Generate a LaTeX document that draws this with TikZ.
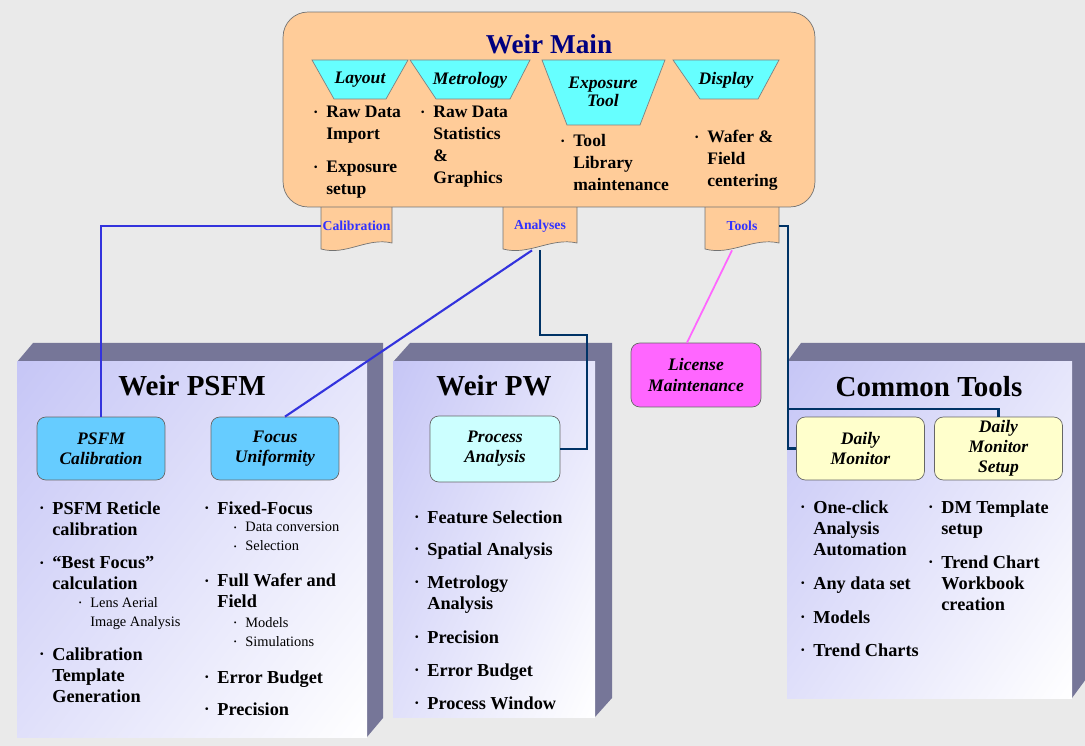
\documentclass[tikz,border=0pt]{standalone}
\usepackage{fontspec}
\setmainfont{Liberation Serif}
\usepackage{graphicx}
\usetikzlibrary{positioning,shadings}

\definecolor{bggray}{RGB}{234,234,234}
\definecolor{peach}{RGB}{255,204,153}
\definecolor{trapcyan}{RGB}{102,255,255}
\definecolor{titlenavy}{RGB}{0,0,128}
\definecolor{tabblue}{RGB}{51,51,255}
\definecolor{lineblue}{RGB}{51,51,221}
\definecolor{linenavy}{RGB}{0,51,102}
\definecolor{linepink}{RGB}{255,102,255}
\definecolor{slabside}{RGB}{118,118,152}
\definecolor{slablav}{RGB}{198,198,246}
\definecolor{skybox}{RGB}{102,204,255}
\definecolor{paleaqua}{RGB}{204,255,255}
\definecolor{magbox}{RGB}{255,102,255}
\definecolor{paleyel}{RGB}{255,255,204}

\newcommand{\bul}{\llap{\raisebox{.25ex}{\scalebox{.55}{\textbullet}}\hspace{5pt}}}

% front face (x0,y0)-(x1,y1), depth dx/dy
\newcommand{\slab}[6]{%
  \fill[slabside] (#1,#2) -- (#1+#5,#2-#6) -- (#3+#5,#2-#6) -- (#3+#5,#4-#6) -- (#3,#4) -- cycle;
  \shade[upper left=slablav, upper right=slablav!45!white, lower left=slablav!55!white, lower right=white]
    (#1,#2) rectangle (#3,#4);
}

\tikzset{
  blist/.style={anchor=north west, inner sep=0pt, align=left, font=\bfseries\fontsize{10}{12.4}\selectfont},
  itm/.style={anchor=north west, inner sep=0pt, align=left, font=\bfseries\fontsize{10.4}{12}\selectfont},
  subitm/.style={anchor=north west, inner sep=0pt, align=left, font=\fontsize{8.2}{10.8}\selectfont},
  traplbl/.style={inner sep=0pt, align=center, font=\bfseries\itshape\fontsize{10}{10.4}\selectfont},
  slabtitle/.style={inner sep=0pt, font=\bfseries\fontsize{16.5}{18}\selectfont},
  subbox/.style={draw=black!60, rounded corners=5pt, inner sep=0pt, align=center,
    font=\bfseries\itshape\fontsize{10}{11.5}\selectfont, minimum width=2.56cm, minimum height=1.26cm},
  tablbl/.style={inner sep=0pt, text=tabblue, font=\bfseries\fontsize{7.8}{9}\selectfont, minimum height=0.96cm},
  bluelink/.style={lineblue, line width=1.2pt},
  navylink/.style={linenavy, line width=1.2pt},
  pinklink/.style={linepink, line width=1pt}
}

\begin{document}
\begin{tikzpicture}[x=0.02cm, y=-0.02cm]

  \fill[bggray] (0,0) rectangle (1085,746);
  \useasboundingbox (0,0) rectangle (1085,746);

  % tabs under the main box
  \foreach \xa/\xb/\nm/\txt in {321/392/calib/Calibration, 503/577/anly/Analyses, 705/779/tools/Tools}{
    \filldraw[fill=peach, draw=black!55] (\xa,200) -- (\xa,249)
      .. controls ({\xa+0.35*(\xb-\xa)},256) and ({\xa+0.65*(\xb-\xa)},237) .. (\xb,243) -- (\xb,200);
    \node[tablbl, minimum width={(\xb-\xa)*0.02cm}] (\nm) at ({(\xa+\xb)/2},226) {\txt};
  }

  % Weir Main
  \node[draw=black!55, fill=peach, rounded corners=0.5cm, minimum width=10.64cm, minimum height=3.9cm]
    (wmain) at (549,109.5) {};
  \node[inner sep=0pt, text=titlenavy, font=\bfseries\fontsize{15.5}{17}\selectfont] (wtitle) at (549,44) {Weir Main};

  \filldraw[fill=trapcyan, draw=black!50] (312,60) -- (408,60) -- (386,99) -- (334,99) -- cycle;
  \filldraw[fill=trapcyan, draw=black!50] (410,60) -- (530,60) -- (510,99) -- (436,99) -- cycle;
  \filldraw[fill=trapcyan, draw=black!50] (542,60) -- (665,60) -- (640,125) -- (567,125) -- cycle;
  \filldraw[fill=trapcyan, draw=black!50] (673,60) -- (779,60) -- (758,99) -- (700,99) -- cycle;
  \node[traplbl] (lay) at (360,80) {Layout};
  \node[traplbl] (met) at (470,80) {Metrology};
  \node[traplbl] (expo) at (603,92) {Exposure\\Tool};
  \node[traplbl] (disp) at (726,80) {Display};

  \node[blist] (lay1) at (326,106) {\bul Raw Data\\Import};
  \node[blist] (lay2) at (326,161) {\bul Exposure\\setup};
  \node[blist] (met1) at (433,106) {\bul Raw Data\\Statistics\\\&\\Graphics};
  \node[blist] (expo1) at (573,134) {\bul Tool\\Library\\maintenance};
  \node[blist] (disp1) at (707,130) {\bul Wafer \&\\Field\\centering};

  % the three modules
  \slab{17}{362}{367}{737}{16}{19}
  \slab{393}{362}{595}{717}{17}{19}
  \slab{787}{362}{1072}{698}{14}{19}

  \node[slabtitle] (psfmt) at (192,386) {Weir PSFM};
  \node[slabtitle] (pwt) at (494,386) {Weir PW};
  \node[slabtitle] (ctt) at (929,387) {Common Tools};

  \node[subbox, fill=skybox] (psfmcal) at (101,448.5) {PSFM\\Calibration};
  \node[subbox, fill=skybox] (focus) at (275,448.5) {Focus\\Uniformity};
  \node[subbox, fill=paleaqua, minimum width=2.6cm, minimum height=1.32cm] (proc) at (495,449) {Process\\Analysis};
  \node[subbox, fill=magbox, minimum width=2.6cm, minimum height=1.28cm] (lic) at (696,375) {License\\Maintenance};
  \node[subbox, fill=paleyel] (dmon) at (860.5,448.5) {Daily\\Monitor};
  \node[subbox, fill=paleyel] (dms) at (998.5,448.5) {Daily\\Monitor\\Setup};

  % bullet lists
  \foreach \txt/\yy [count=\i] in {{PSFM Reticle\\calibration}/508, {“Best Focus”\\calculation}/563,
      {Calibration\\Template\\Generation}/654}
    \node[itm] (psl\i) at (52,\yy-7) {\bul\txt};
  \node[subitm] (psls) at (90,603-6) {\bul Lens Aerial\\Image Analysis};

  \foreach \txt/\yy [count=\i] in {{Fixed-Focus}/508, {Full Wafer and\\Field}/580, {Error Budget}/677, {Precision}/709}
    \node[itm] (psr\i) at (217,\yy-7) {\bul\txt};
  \node[subitm] (psrs1) at (245,528-6) {\bul Data conversion\\\bul Selection};
  \node[subitm] (psrs2) at (245,623-6) {\bul Models\\\bul Simulations};

  \foreach \txt/\yy [count=\i] in {{Feature Selection}/517, {Spatial Analysis}/549, {Metrology\\Analysis}/582,
      {Precision}/637, {Error Budget}/670, {Process Window}/703}
    \node[itm] (pw\i) at (427,\yy-7) {\bul\txt};

  \foreach \txt/\yy [count=\i] in {{One-click\\Analysis\\Automation}/507, {Any data set}/583, {Models}/617, {Trend Charts}/650}
    \node[itm] (ctl\i) at (813,\yy-7) {\bul\txt};
  \foreach \txt/\yy [count=\i] in {{DM Template\\setup}/507, {Trend Chart\\Workbook\\creation}/562}
    \node[itm] (ctr\i) at (941,\yy-7) {\bul\txt};

  % connectors
  \coordinate (anbend) at (587,335);
  \coordinate (tlbend) at (788,409);
  \draw[bluelink] (calib.west) -| (psfmcal.north);
  \draw[bluelink] ([xshift=-0.16cm]anly.south) -- ([xshift=0.2cm]focus.north);
  \draw[navylink] (anly.south) |- (anbend) |- (proc.east);
  \draw[pinklink] ([xshift=-0.2cm]tools.south) -- ([xshift=-0.18cm]lic.north);
  \draw[navylink] (tools.east) -| (tlbend) |- (dmon.west);
  \draw[navylink] (tlbend) -| (dms.north);

\end{tikzpicture}
\end{document}
